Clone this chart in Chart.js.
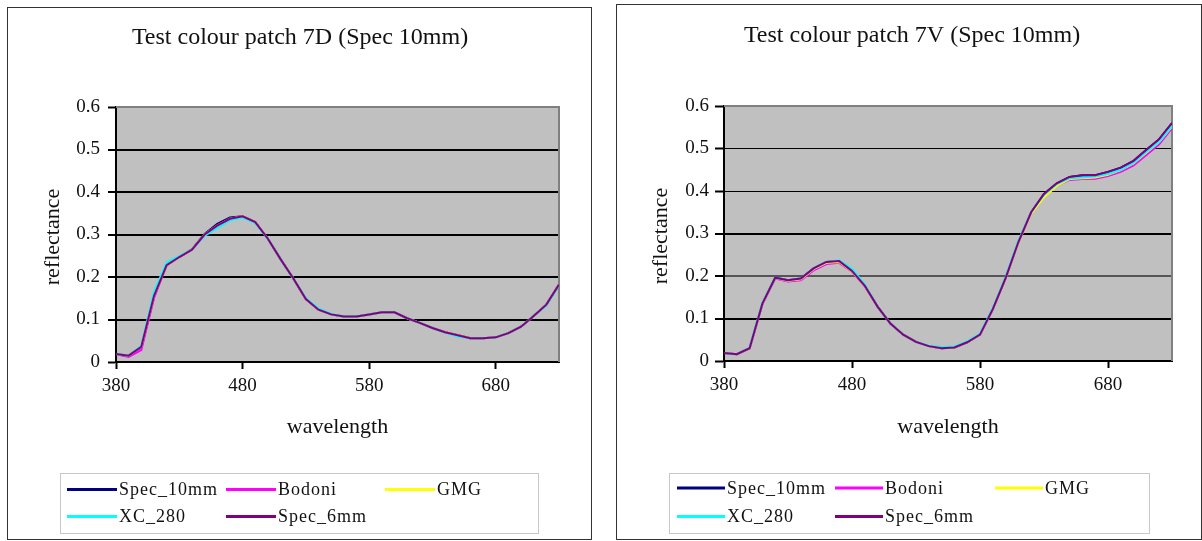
<!DOCTYPE html>
<html>
<head>
<meta charset="utf-8">
<script src="https://cdn.jsdelivr.net/npm/chart.js@4.4.1/dist/chart.umd.min.js"></script>
<style>
  html, body { margin: 0; padding: 0; background: #fff; width: 1202px; height: 541px; overflow: hidden; }
  .box { position: absolute; border: 1px solid #333; box-sizing: border-box; background: #fff; }
  .box canvas { position: absolute; left: 0; top: 0; }
</style>
</head>
<body>
<div class="box" style="left:7px;top:7px;width:585px;height:533px"><canvas id="chart7D" width="583" height="531"></canvas></div>
<div class="box" style="left:616px;top:4px;width:586px;height:536px"><canvas id="chart7V" width="584" height="534"></canvas></div>

<script>
// Wavelength samples (nm) shared by every series
const wavelengths = [380, 390, 400, 410, 420, 430, 440, 450, 460, 470, 480, 490,
                     500, 510, 520, 530, 540, 550, 560, 570, 580, 590, 600, 610,
                     620, 630, 640, 650, 660, 670, 680, 690, 700, 710, 720, 730];

const seriesNames = ['Spec_10mm', 'Bodoni', 'GMG', 'XC_280', 'Spec_6mm'];
const seriesColors = ['#000080', '#ff00ff', '#ffff00', '#00ffff', '#800080'];

const xTickValues = [380, 480, 580, 680];
const yTickValues = [0, 0.1, 0.2, 0.3, 0.4, 0.5, 0.6];
const yTickLabels = ['0', '0.1', '0.2', '0.3', '0.4', '0.5', '0.6'];

// Patch 7D reflectance
const d7_spec10 = [0.019, 0.015, 0.035, 0.155, 0.228, 0.247, 0.265, 0.301, 0.325, 0.340, 0.343, 0.329,
                   0.290, 0.242, 0.197, 0.148, 0.123, 0.112, 0.107, 0.107, 0.112, 0.117, 0.117, 0.103,
                   0.092, 0.080, 0.070, 0.063, 0.056, 0.056, 0.058, 0.068, 0.083, 0.108, 0.135, 0.182];
const d7_bodoni = [0.018, 0.012, 0.028, 0.150, 0.228, 0.247, 0.264, 0.300, 0.321, 0.337, 0.343, 0.329,
                   0.290, 0.242, 0.197, 0.148, 0.123, 0.112, 0.107, 0.107, 0.112, 0.117, 0.117, 0.103,
                   0.092, 0.080, 0.070, 0.063, 0.056, 0.056, 0.058, 0.068, 0.083, 0.108, 0.135, 0.182];
const d7_gmg    = [0.019, 0.015, 0.036, 0.155, 0.228, 0.247, 0.264, 0.300, 0.321, 0.337, 0.343, 0.329,
                   0.290, 0.242, 0.197, 0.148, 0.123, 0.112, 0.107, 0.107, 0.112, 0.117, 0.117, 0.103,
                   0.092, 0.080, 0.070, 0.063, 0.056, 0.056, 0.058, 0.068, 0.083, 0.108, 0.135, 0.182];
const d7_xc280  = [0.019, 0.015, 0.038, 0.165, 0.235, 0.249, 0.264, 0.297, 0.315, 0.333, 0.340, 0.327,
                   0.290, 0.242, 0.197, 0.150, 0.126, 0.113, 0.107, 0.107, 0.112, 0.117, 0.117, 0.103,
                   0.092, 0.080, 0.069, 0.060, 0.056, 0.056, 0.058, 0.068, 0.083, 0.108, 0.133, 0.180];
const d7_spec6  = [0.019, 0.015, 0.036, 0.155, 0.228, 0.247, 0.264, 0.300, 0.321, 0.337, 0.343, 0.329,
                   0.290, 0.242, 0.197, 0.148, 0.123, 0.112, 0.107, 0.107, 0.112, 0.117, 0.117, 0.103,
                   0.092, 0.080, 0.070, 0.063, 0.056, 0.056, 0.058, 0.068, 0.083, 0.108, 0.135, 0.182];

// Patch 7V reflectance
const v7_spec10 = [0.019, 0.016, 0.030, 0.135, 0.196, 0.190, 0.194, 0.218, 0.233, 0.235, 0.212, 0.177,
                   0.128, 0.088, 0.062, 0.045, 0.035, 0.030, 0.032, 0.044, 0.062, 0.122, 0.195, 0.280,
                   0.350, 0.393, 0.418, 0.433, 0.437, 0.437, 0.445, 0.455, 0.471, 0.497, 0.522, 0.560];
const v7_bodoni = [0.019, 0.016, 0.030, 0.134, 0.194, 0.187, 0.190, 0.213, 0.228, 0.231, 0.210, 0.176,
                   0.128, 0.088, 0.062, 0.045, 0.035, 0.030, 0.032, 0.044, 0.062, 0.122, 0.195, 0.280,
                   0.348, 0.388, 0.413, 0.426, 0.428, 0.429, 0.435, 0.445, 0.460, 0.485, 0.510, 0.548];
const v7_gmg    = [0.019, 0.016, 0.030, 0.135, 0.195, 0.189, 0.192, 0.216, 0.231, 0.233, 0.211, 0.177,
                   0.128, 0.088, 0.062, 0.045, 0.035, 0.030, 0.032, 0.044, 0.062, 0.122, 0.195, 0.279,
                   0.347, 0.385, 0.412, 0.428, 0.430, 0.432, 0.438, 0.449, 0.465, 0.490, 0.515, 0.552];
const v7_xc280  = [0.019, 0.016, 0.031, 0.137, 0.196, 0.190, 0.194, 0.218, 0.233, 0.237, 0.217, 0.180,
                   0.128, 0.088, 0.062, 0.045, 0.036, 0.033, 0.034, 0.046, 0.064, 0.124, 0.198, 0.283,
                   0.350, 0.391, 0.416, 0.430, 0.432, 0.434, 0.440, 0.450, 0.466, 0.492, 0.516, 0.553];
const v7_spec6  = [0.019, 0.016, 0.030, 0.135, 0.196, 0.190, 0.194, 0.218, 0.233, 0.235, 0.212, 0.177,
                   0.128, 0.088, 0.062, 0.045, 0.035, 0.030, 0.032, 0.044, 0.062, 0.122, 0.195, 0.280,
                   0.350, 0.393, 0.418, 0.433, 0.437, 0.437, 0.445, 0.455, 0.471, 0.497, 0.522, 0.560];

const SERIF = '"Liberation Serif", "Times New Roman", serif';

// Draws the grey plot panel, its grey top/right edge, titles and the boxed legend
const framePlugin = {
  id: 'frame',
  beforeDraw(chart) {
    const { ctx, chartArea: a } = chart;
    ctx.save();
    ctx.fillStyle = '#c0c0c0';
    ctx.fillRect(a.left, a.top, a.right - a.left, a.bottom - a.top);
    ctx.restore();
  },
  beforeDatasetsDraw(chart) {
    const { ctx, chartArea: a } = chart;
    ctx.save();
    ctx.strokeStyle = '#808080';
    ctx.lineWidth = 2;
    ctx.beginPath();
    ctx.moveTo(a.left, a.top);
    ctx.lineTo(a.right, a.top);
    ctx.lineTo(a.right, a.bottom);
    ctx.stroke();
    ctx.restore();
  },
  afterDraw(chart, args, o) {
    const { ctx, chartArea: a } = chart;
    ctx.save();
    ctx.fillStyle = '#111';
    ctx.textAlign = 'center';
    ctx.textBaseline = 'alphabetic';

    ctx.font = '24px ' + SERIF;
    ctx.fillText(o.title, o.titleX, o.titleY);

    ctx.font = '22px ' + SERIF;
    ctx.fillText(o.xTitle, (a.left + a.right) / 2, o.xTitleY);

    ctx.save();
    ctx.translate(o.yTitleX, o.yTitleY);
    ctx.rotate(-Math.PI / 2);
    ctx.fillText(o.yTitle, 0, 0);
    ctx.restore();

    // legend
    const L = o.legend;
    ctx.strokeStyle = '#c8c8c8';
    ctx.lineWidth = 1;
    ctx.strokeRect(L.x + 0.5, L.y + 0.5, L.w, L.h);
    ctx.textAlign = 'left';
    ctx.font = '18px ' + SERIF;
    if ('letterSpacing' in ctx) ctx.letterSpacing = '1px';
    chart.data.datasets.forEach((ds, i) => {
      const col = i % 3, row = Math.floor(i / 3);
      const lx = L.x + L.cols[col];
      const ly = L.y + L.rows[row];
      ctx.strokeStyle = ds.borderColor;
      ctx.lineWidth = 3;
      ctx.beginPath();
      ctx.moveTo(lx, ly);
      ctx.lineTo(lx + L.lineLen, ly);
      ctx.stroke();
      ctx.fillStyle = '#111';
      ctx.fillText(ds.label, lx + L.lineLen + 2, ly + 5.5);
    });
    ctx.restore();
  }
};

function buildChart(id, spec) {
  const datasets = seriesNames.map((name, i) => ({
    label: name,
    data: wavelengths.map((w, j) => ({ x: w, y: spec.series[i][j] })),
    borderColor: seriesColors[i],
    backgroundColor: seriesColors[i],
    borderWidth: 2,
    pointRadius: 0,
    tension: 0,
    fill: false,
    order: seriesNames.length - i
  }));

  return new Chart(document.getElementById(id), {
    type: 'line',
    data: { datasets },
    plugins: [framePlugin],
    options: {
      responsive: false,
      animation: false,
      devicePixelRatio: 1,
      layout: { padding: { left: 0, top: spec.padTop, right: spec.padRight, bottom: 0 } },
      plugins: {
        legend: { display: false },
        tooltip: { enabled: false },
        title: { display: false },
        frame: spec.frame
      },
      scales: {
        x: {
          type: 'linear',
          min: 380,
          max: 730,
          afterBuildTicks: s => { s.ticks = xTickValues.map(v => ({ value: v })); },
          afterFit: s => { s.height = spec.xAxisHeight; },
          grid: { drawOnChartArea: false, drawTicks: true, tickLength: 7, tickColor: '#000', tickWidth: 2, color: '#000' },
          border: { display: true, color: '#000', width: 2 },
          ticks: {
            font: { family: SERIF, size: 19 },
            color: '#111',
            padding: 6,
            maxRotation: 0,
            autoSkip: false,
            callback: v => String(v)
          }
        },
        y: {
          min: 0,
          max: 0.6,
          afterBuildTicks: s => { s.ticks = yTickValues.map(v => ({ value: v })); },
          afterFit: s => { s.width = spec.yAxisWidth; },
          grid: {
            color: c => spec.gridColors[c.index],
            lineWidth: c => spec.gridWidths[c.index],
            tickColor: '#000',
            tickLength: spec.yTickLen,
            tickWidth: 2
          },
          border: { display: true, color: '#000', width: 2 },
          ticks: {
            font: { family: SERIF, size: 19 },
            color: '#111',
            padding: spec.yTickPad,
            callback: (v, i) => yTickLabels[i]
          }
        }
      }
    }
  });
}

const NONE = 'rgba(0,0,0,0)';

buildChart('chart7D', {
  series: [d7_spec10, d7_bodoni, d7_gmg, d7_xc280, d7_spec6],
  padTop: 99, padRight: 32, yAxisWidth: 108, xAxisHeight: 177,
  yTickLen: 8, yTickPad: 8,
  gridColors: [NONE, '#000', '#000', '#000', '#000', '#000', NONE],
  gridWidths: [1, 2, 2, 2, 2, 2, 1],
  frame: {
    title: 'Test colour patch 7D (Spec 10mm)', titleX: 292, titleY: 36,
    xTitle: 'wavelength', xTitleY: 425,
    yTitle: 'reflectance', yTitleX: 51, yTitleY: 229,
    legend: { x: 52, y: 465, w: 478, h: 60, cols: [7, 166, 325], rows: [16.5, 43.5], lineLen: 50 }
  }
});

buildChart('chart7V', {
  series: [v7_spec10, v7_bodoni, v7_gmg, v7_xc280, v7_spec6],
  padTop: 101, padRight: 29, yAxisWidth: 107, xAxisHeight: 178,
  yTickLen: 9, yTickPad: 6,
  gridColors: [NONE, '#000', '#555', '#000', '#000', '#000', NONE],
  gridWidths: [1, 2, 2, 2, 1, 1, 1],
  frame: {
    title: 'Test colour patch 7V (Spec 10mm)', titleX: 295, titleY: 37,
    xTitle: 'wavelength', xTitleY: 428,
    yTitle: 'reflectance', yTitleX: 50, yTitleY: 231,
    legend: { x: 52, y: 468, w: 480, h: 60, cols: [8, 166, 326], rows: [15, 43.5], lineLen: 48 }
  }
});
</script>
</body>
</html>
